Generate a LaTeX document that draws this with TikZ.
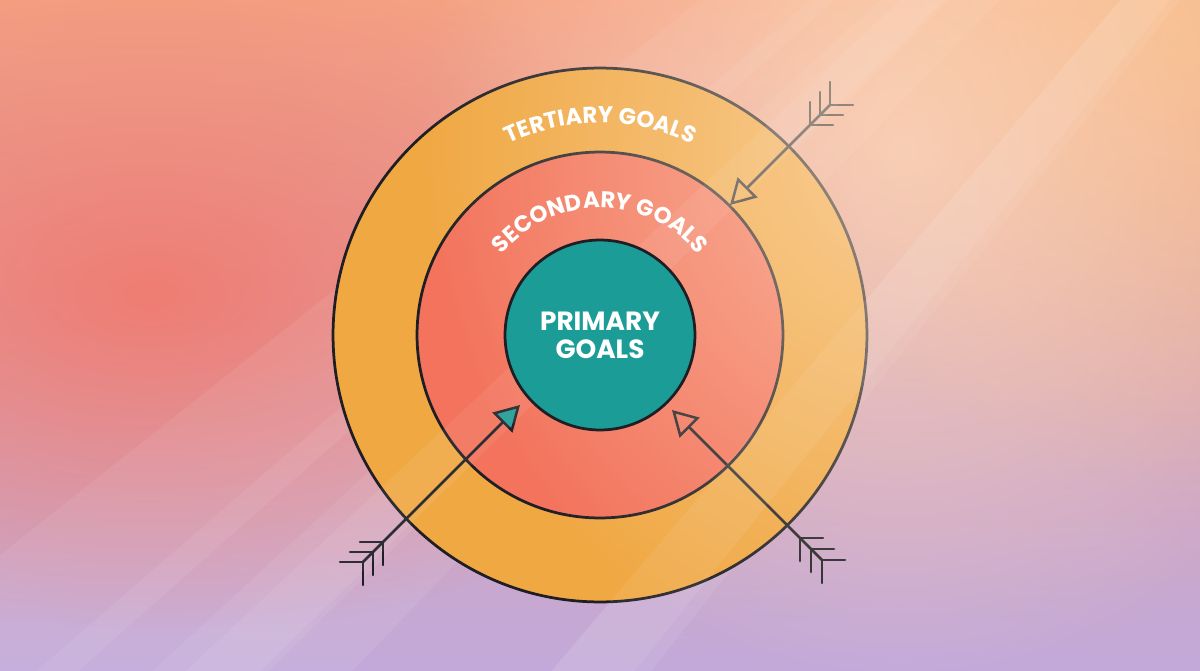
\documentclass[tikz,border=0pt]{standalone}
\usepackage{fontspec}
\setmainfont{Poppins}
\usetikzlibrary{arrows.meta,calc,decorations.text,fadings}
\definecolor{topbg}{HTML}{F5A283}
\definecolor{midbg}{HTML}{EFA996}
\definecolor{botbg}{HTML}{C2A9DA}
\definecolor{coralbg}{HTML}{F2766A}
\definecolor{sunbg}{HTML}{F7BC86}
\definecolor{glowc}{HTML}{FFE6CC}
\definecolor{tertfill}{HTML}{F0A843}
\definecolor{secfill}{HTML}{F3735C}
\definecolor{primfill}{HTML}{1C9C97}
\definecolor{inkline}{HTML}{1E1E24}
\tikzfading[name=softspot,inner color=transparent!0,outer color=transparent!100]

\begin{document}
\begin{tikzpicture}[x=0.02cm,y=0.02cm,line join=round]
	\def \rout{10.68cm}
	\def \rmid{7.32cm}
	\def \rin{3.8cm}
	\tikzstyle{ring}=[circle,draw=inkline,line width=0.055cm,inner sep=0pt]
	\tikzstyle{shaft}=[draw=inkline,line width=0.05cm]
	\tikzstyle{fletch}=[draw=inkline,line width=0.05cm,line cap=round]
	\tikzstyle{ray}=[fill=white,fill opacity=0.07]
	\tikzstyle{arclabel}=[decorate,decoration={text along path,text align=center,text color=white}]
	% background
	\useasboundingbox (-600,-335) rectangle (600,335);
	\fill[top color=topbg,middle color=midbg,bottom color=botbg] (-600,-335) rectangle (600,335);
	\fill[coralbg,path fading=softspot,fill opacity=0.85] (-1050,-300) rectangle (150,380);
	\fill[sunbg,path fading=softspot,fill opacity=0.85] (100,-150) rectangle (1100,800);

	% light rays behind the target
	\begin{scope}
		\clip (-600,-335) rectangle (600,335);
		\coordinate (sun) at (1380,1350);
		\foreach \a/\b in {100/400,210/235,280/350,520/580}
			\fill[ray] (sun) -- ($(sun)!3!(\a,335)$) -- ($(sun)!3!(\b,335)$) -- cycle;
	\end{scope}

	% rings
	\node[ring,fill=tertfill,minimum size=\rout] (tertiary) at (0,0) {};
	\node[ring,fill=secfill,minimum size=\rmid] (secondary) at (0,0) {};

	% arrows
	\coordinate (trtip) at (130,130);
	\coordinate (trtail) at (230,230);
	\coordinate (bltip) at (-80,-70);
	\coordinate (bltail) at (-237,-227);
	\coordinate (brtip) at (72,-75);
	\coordinate (brtail) at (222,-225);

	\draw[shaft,-{Triangle[open,length=0.5cm,width=0.56cm]}] (trtail) -- (trtip);
	\draw[shaft,-{Triangle[length=0.5cm,width=0.56cm,fill=primfill]}] (bltail) -- (bltip);
	\draw[shaft,-{Triangle[open,length=0.5cm,width=0.56cm]}] (brtail) -- (brtip);

	\foreach \k in {0,1,2} {
		\draw[fletch] ($(trtail)-(10*\k,10*\k)$) +(0,23) -- +(0,0) -- +(23,0);
		\draw[fletch] ($(bltail)+(10*\k,10*\k)$) +(-23,0) -- +(0,0) -- +(0,-23);
		\draw[fletch] ($(brtail)+(-11*\k,11*\k)$) +(0,-23) -- +(0,0) -- +(23,0);
	}

	% glow over the right half
	\begin{scope}
		\clip (-600,-335) rectangle (600,335);
		\fill[glowc,path fading=softspot,fill opacity=0.6] (300,190) ellipse [x radius=480,y radius=540];
		\foreach \a/\b in {300/345,520/570}
			\fill[white,fill opacity=0.07] (sun) -- ($(sun)!3!(\a,335)$) -- ($(sun)!3!(\b,335)$) -- cycle;
	\end{scope}

	% centre and labels
	\node[ring,fill=primfill,minimum size=\rin,text=white,align=center,
		font=\bfseries\fontsize{15}{16}\selectfont] (primary) at (0,0) {PRIMARY\\GOALS};
	\path[arclabel,decoration={text={|\bfseries\fontsize{13}{15}\selectfont|TERTIARY GOALS}}]
		(150:212) arc[start angle=150,end angle=30,radius=212];
	\path[arclabel,decoration={text={|\bfseries\fontsize{13}{15}\selectfont|SECONDARY GOALS}}]
		(178:127) arc[start angle=178,end angle=2,radius=127];
\end{tikzpicture}
\end{document}
